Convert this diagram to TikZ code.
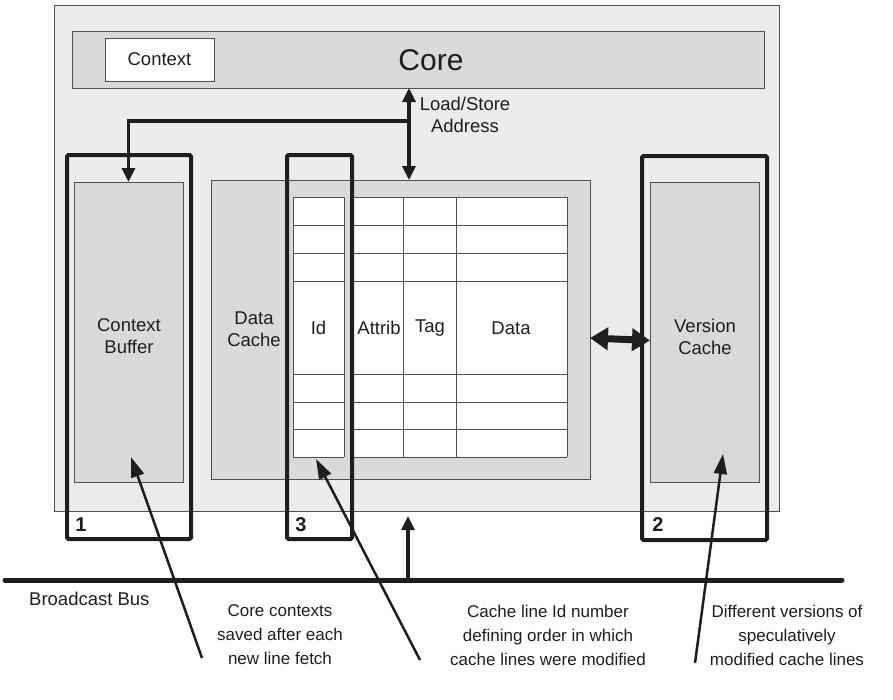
\documentclass[tikz,border=0pt]{standalone}
\usepackage{fontspec}
\setmainfont{Liberation Sans}
\usetikzlibrary{arrows.meta}
\definecolor{outerfill}{RGB}{235,237,237}
\definecolor{innerfill}{RGB}{217,219,219}
\definecolor{edge}{RGB}{80,80,80}
\definecolor{ink}{RGB}{30,30,30}
\begin{document}
\begin{tikzpicture}[x=1pt,y=-1pt,
  box/.style={draw=edge, line width=0.8pt, inner sep=0pt, outer sep=0pt, anchor=north west},
  boldbox/.style={draw=ink, line width=4pt, rounded corners=1.5pt, inner sep=0pt, outer sep=0pt, anchor=north west},
  cell/.style={draw=edge, line width=0.8pt},
  lbl/.style={font=\fontsize{18.5}{22}\selectfont, align=center, text=ink, inner sep=0pt},
  ann/.style={font=\fontsize{17}{24}\selectfont, align=center, text=ink, inner sep=0pt},
  num/.style={font=\fontsize{20}{22}\selectfont\bfseries, text=ink, inner sep=0pt},
  lsarr/.style={draw=ink, line width=3.3pt, -{Triangle[length=14pt,width=13pt]}},
  annarr/.style={draw=ink, line width=2.5pt, -{Triangle[length=20pt,width=13pt]}},
  dblarr/.style={draw=ink, line width=7pt, {Triangle[length=18pt,width=22pt]}-{Triangle[length=18pt,width=22pt]}},
]
\useasboundingbox (0,0) rectangle (893,699);

% chip
\node[box, fill=outerfill, minimum width=725pt, minimum height=506pt] (chip) at (54,5) {};
% core
\node[box, fill=innerfill, minimum width=692pt, minimum height=57pt] (core) at (72,31) {};
\node[box, fill=white, minimum width=109pt, minimum height=43pt] (ctx) at (105,38) {};
\node[lbl] (ctxt) at (ctx.center) {Context};
\node[font=\fontsize{30}{32}\selectfont, text=ink, inner sep=0pt] (coret) at (431,60) {Core};

% context buffer
\node[box, fill=innerfill, minimum width=109pt, minimum height=300pt] (cbuf) at (74,182) {};
\node[lbl] (cbuft) at (129,336) {Context\\Buffer};

% data cache
\node[box, fill=innerfill, minimum width=379pt, minimum height=299pt] (dcache) at (211,180) {};
\node[lbl] (dcachet) at (254,329) {Data\\Cache};

% version cache
\node[box, fill=innerfill, minimum width=109pt, minimum height=300pt] (vcache) at (650,182) {};
\node[lbl] (vcachet) at (705,337) {Version\\Cache};

% table
\fill[white] (293,197) rectangle (344,457);
\fill[white] (351,197) rectangle (567,457);
\foreach \yy in {197,225,253,281,374,402,429,457} {
  \draw[cell] (293,\yy) -- (344,\yy);
  \draw[cell] (351,\yy) -- (567,\yy);
}
\foreach \xx in {293,344,351,403,456,567} {
  \draw[cell] (\xx,197) -- (\xx,457);
}
\node[lbl] (idt) at (318.5,328) {Id};
\node[lbl] (attt) at (379,328) {Attrib};
\node[lbl] (tagt) at (430,328) {Tag};
\node[lbl] (datat) at (511,328) {Data};

% bold boxes
\node[boldbox, minimum width=124pt, minimum height=384pt] (b1) at (67,155) {};
\node[boldbox, minimum width=65pt, minimum height=384pt] (b3) at (287,155) {};
\node[boldbox, minimum width=125pt, minimum height=384pt] (b2) at (642,156) {};
\node[num] (n1) at (81,525) {1};
\node[num] (n3) at (301,525) {3};
\node[num] (n2) at (658,525) {2};

% load/store arrows
\coordinate (jn) at (409,121);
\draw[lsarr] (jn) -- (core.south -| jn);
\draw[lsarr] (jn) -- (dcache.north -| jn);
\draw[lsarr, line join=miter] (jn) -| (cbuf.north);
\node[lbl, anchor=north] (lst) at (465,97) {Load/Store\\Address};

% double arrow
\draw[dblarr] ([yshift=-8.5pt]dcache.east) -- ([yshift=-8.5pt]vcache.west);

% broadcast bus
\coordinate (busL) at (5,580);
\coordinate (busR) at (842,580);
\draw[draw=ink, line width=5pt, line cap=round] (busL) -- (busR);
\node[lbl, anchor=west] (bust) at (29,599) {Broadcast Bus};
\coordinate (busup) at (408,580);
\coordinate (uptip) at (408,516);
\draw[lsarr] (busup) -- (uptip);

% annotations
\coordinate (a1s) at (202,658);
\coordinate (a1t) at (131,457);
\coordinate (a2s) at (420,660);
\coordinate (a2t) at (316,459);
\coordinate (a3s) at (695,663);
\coordinate (a3t) at (723,454);
\draw[annarr] (a1s) -- (a1t);
\draw[annarr] (a2s) -- (a2t);
\draw[annarr] (a3s) -- (a3t);
\node[ann] (t1) at (280,635) {Core contexts\\saved after each\\new line fetch};
\node[ann] (t2) at (548,635) {Cache line Id number\\defining order in which\\cache lines were modified};
\node[ann] (t3) at (787,635) {Different versions of\\speculatively\\modified cache lines};
\end{tikzpicture}
\end{document}
